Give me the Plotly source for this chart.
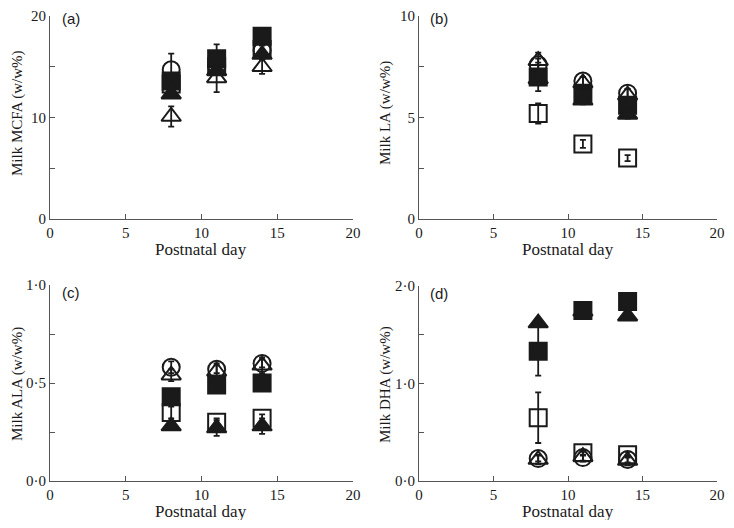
import plotly.graph_objects as go

days = [8, 11, 14]

# Panel (a) Milk MCFA
mcfa_circle_open = [14.7, 15.1, 16.6]
mcfa_circle_open_err = [1.6, 0.6, 0.5]
mcfa_triangle_open = [10.1, 13.9, 15.0]
mcfa_triangle_open_err = [1.0, 1.4, 0.7]
mcfa_square_filled = [13.6, 15.8, 18.0]
mcfa_square_filled_err = [0.5, 1.4, 0.4]
mcfa_square_open = [13.3, 15.0, 16.7]
mcfa_square_open_err = [0.4, 0.4, 0.4]
mcfa_triangle_filled = [12.3, 14.6, 16.2]
mcfa_triangle_filled_err = [0.4, 0.4, 0.4]

# Panel (b) Milk LA
la_circle_open = [7.6, 6.8, 6.2]
la_circle_open_err = [0.3, 0.2, 0.2]
la_triangle_open = [7.8, 6.7, 6.1]
la_triangle_open_err = [0.4, 0.3, 0.3]
la_square_filled = [7.0, 6.2, 5.6]
la_square_filled_err = [0.7, 0.3, 0.3]
la_square_open = [5.2, 3.7, 3.0]
la_square_open_err = [0.5, 0.2, 0.15]
la_triangle_filled = [6.9, 5.85, 5.15]
la_triangle_filled_err = [0.2, 0.2, 0.2]

# Panel (c) Milk ALA
ala_circle_open = [0.58, 0.57, 0.60]
ala_circle_open_err = [0.03, 0.02, 0.02]
ala_triangle_open = [0.54, 0.56, 0.59]
ala_triangle_open_err = [0.03, 0.04, 0.04]
ala_square_filled = [0.43, 0.49, 0.50]
ala_square_filled_err = [0.02, 0.02, 0.02]
ala_square_open = [0.35, 0.30, 0.32]
ala_square_open_err = [0.03, 0.02, 0.02]
ala_triangle_filled = [0.28, 0.27, 0.28]
ala_triangle_filled_err = [0.01, 0.04, 0.04]

# Panel (d) Milk DHA
dha_circle_open = [0.23, 0.24, 0.22]
dha_circle_open_err = [0.03, 0.03, 0.03]
dha_triangle_open = [0.22, 0.25, 0.21]
dha_triangle_open_err = [0.05, 0.05, 0.05]
dha_square_filled = [1.33, 1.75, 1.84]
dha_square_filled_err = [0.25, 0.05, 0.05]
dha_square_open = [0.65, 0.29, 0.27]
dha_square_open_err = [0.26, 0.03, 0.03]
dha_triangle_filled = [1.62, 1.74, 1.69]
dha_triangle_filled_err = [0.02, 0.03, 0.02]

x_title = "Postnatal day"
y_titles = ["Milk MCFA (w/w%)", "Milk LA (w/w%)", "Milk ALA (w/w%)", "Milk DHA (w/w%)"]
panel_labels = ["(a)", "(b)", "(c)", "(d)"]

panels = [
    dict(xa="x", ya="y", series=[
        (mcfa_square_filled, mcfa_square_filled_err, "square"),
        (mcfa_triangle_filled, mcfa_triangle_filled_err, "triangle-up"),
        (mcfa_square_open, mcfa_square_open_err, "square-open"),
        (mcfa_circle_open, mcfa_circle_open_err, "circle-open"),
        (mcfa_triangle_open, mcfa_triangle_open_err, "triangle-up-open"),
    ]),
    dict(xa="x2", ya="y2", series=[
        (la_square_filled, la_square_filled_err, "square"),
        (la_triangle_filled, la_triangle_filled_err, "triangle-up"),
        (la_square_open, la_square_open_err, "square-open"),
        (la_circle_open, la_circle_open_err, "circle-open"),
        (la_triangle_open, la_triangle_open_err, "triangle-up-open"),
    ]),
    dict(xa="x3", ya="y3", series=[
        (ala_square_filled, ala_square_filled_err, "square"),
        (ala_triangle_filled, ala_triangle_filled_err, "triangle-up"),
        (ala_square_open, ala_square_open_err, "square-open"),
        (ala_circle_open, ala_circle_open_err, "circle-open"),
        (ala_triangle_open, ala_triangle_open_err, "triangle-up-open"),
    ]),
    dict(xa="x4", ya="y4", series=[
        (dha_square_filled, dha_square_filled_err, "square"),
        (dha_triangle_filled, dha_triangle_filled_err, "triangle-up"),
        (dha_square_open, dha_square_open_err, "square-open"),
        (dha_circle_open, dha_circle_open_err, "circle-open"),
        (dha_triangle_open, dha_triangle_open_err, "triangle-up-open"),
    ]),
]

INK = "#1a1a1a"
AXIS = "#555555"
fig = go.Figure()
for p in panels:
    for vals, errs, sym in p["series"]:
        fig.add_trace(go.Scatter(
            x=days, y=vals, mode="markers", xaxis=p["xa"], yaxis=p["ya"],
            marker=dict(symbol=sym, size=17, color=INK,
                        line=dict(color=INK, width=2)),
            error_y=dict(type="data", array=errs, visible=True,
                         color=INK, thickness=1.8, width=3),
            cliponaxis=False, showlegend=False, hoverinfo="skip"))

# page body has an 8px margin on every side: the figure fills the rest
# of the window exactly (no scrollbars); positions below are window pixels
OFF = 8
W, H = 734 - 2 * OFF, 528 - 2 * OFF
def xd(a, b):
    return [(a - OFF) / W, (b - OFF) / W]
def yd(top, bottom):
    return [1 - (bottom - OFF) / H, 1 - (top - OFF) / H]
def px(x):
    return (x - OFF) / W
def py(y):
    return 1 - (y - OFF) / H

serif = "Liberation Serif"
axis_common = dict(showline=True, linecolor=AXIS, linewidth=1, ticks="inside",
                   ticklen=5, tickcolor=AXIS, tickwidth=1, showgrid=False,
                   zeroline=False, automargin=False, ticklabeloverflow="allow",
                   tickfont=dict(family=serif, size=15, color=INK))

def xaxis(dom, anchor):
    return dict(axis_common, domain=dom, anchor=anchor, range=[0, 20],
                tickvals=[0, 5, 10, 15, 20], ticktext=["0", "5", "10", "15", "20"])

def yaxis(dom, anchor, rng, tv, tt):
    return dict(axis_common, domain=dom, anchor=anchor, range=rng,
                tickvals=tv, ticktext=tt)

fig.update_layout(
    width=W, height=H, margin=dict(l=0, r=0, t=0, b=0),
    paper_bgcolor="white", plot_bgcolor="white",
    xaxis=xaxis(xd(50, 353), "y"),
    yaxis=yaxis(yd(16, 219), "x", [0, 20], [0, 5, 10, 15, 20],
                ["0", "", "10", "", "20"]),
    xaxis2=xaxis(xd(419, 717), "y2"),
    yaxis2=yaxis(yd(16, 219), "x2", [0, 10], [0, 2.5, 5, 7.5, 10],
                 ["0", "", "5", "", "10"]),
    xaxis3=xaxis(xd(50, 353), "y3"),
    yaxis3=yaxis(yd(285, 481), "x3", [0, 1], [0, 0.25, 0.5, 0.75, 1],
                 ["0·0", "", "0·5", "", "1·0"]),
    xaxis4=xaxis(xd(419, 717), "y4"),
    yaxis4=yaxis(yd(286, 481), "x4", [0, 2], [0, 0.5, 1, 1.5, 2],
                 ["0·0", "", "1·0", "", "2·0"]),
)

label_pos = [(60, 18), (428, 18), (60, 292), (428, 293)]
xtitle_pos = [(201, 249), (568, 249), (201, 511), (568, 511)]
ytitle_pos = [(17, 113), (385, 113), (17, 384), (385, 384)]
for i in range(4):
    fig.add_annotation(text=panel_labels[i], xref="paper", yref="paper",
                       x=px(label_pos[i][0]), y=py(label_pos[i][1]),
                       xanchor="left", yanchor="middle", showarrow=False,
                       font=dict(family="Liberation Sans", size=15, color=INK))
    fig.add_annotation(text=x_title, xref="paper", yref="paper",
                       x=px(xtitle_pos[i][0]), y=py(xtitle_pos[i][1]),
                       xanchor="center", yanchor="middle", showarrow=False,
                       font=dict(family=serif, size=17, color=INK))
    fig.add_annotation(text=y_titles[i], xref="paper", yref="paper",
                       x=px(ytitle_pos[i][0]), y=py(ytitle_pos[i][1]),
                       xanchor="center", yanchor="middle", textangle=-90,
                       showarrow=False,
                       font=dict(family=serif, size=15, color=INK))

fig.write_html("out.html")
